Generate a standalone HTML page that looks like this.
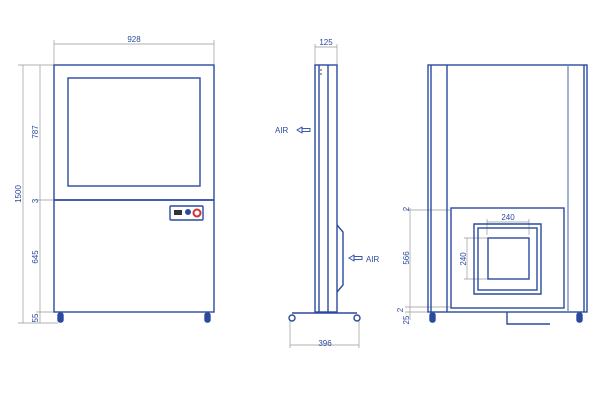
<!DOCTYPE html>
<html><head><style>body{margin:0;background:#fff}svg{display:block}</style></head><body>
<svg width="600" height="400" viewBox="0 0 600 400" font-family="Liberation Sans, sans-serif" font-size="8" fill="none">
<g stroke="#999" stroke-width="0.7">
<line x1="54" y1="44" x2="214" y2="44"/><line x1="54" y1="40" x2="54" y2="65"/><line x1="214" y1="40" x2="214" y2="65"/>
<line x1="23" y1="65" x2="23" y2="323"/><line x1="40" y1="65" x2="40" y2="323"/>
<line x1="18" y1="65" x2="54" y2="65"/><line x1="18" y1="323" x2="58" y2="323"/>
<line x1="36" y1="200" x2="54" y2="200"/><line x1="36" y1="312" x2="54" y2="312"/>
<line x1="315" y1="47" x2="337" y2="47"/><line x1="315" y1="44" x2="315" y2="65"/><line x1="337" y1="44" x2="337" y2="65"/>
<line x1="290" y1="345" x2="359" y2="345"/><line x1="290" y1="320" x2="290" y2="348"/><line x1="359" y1="320" x2="359" y2="348"/>
<line x1="410" y1="208" x2="410" y2="320"/><line x1="405" y1="210" x2="450" y2="210"/><line x1="405" y1="307" x2="450" y2="307"/><line x1="405" y1="312" x2="430" y2="312"/>
<line x1="487" y1="222" x2="529" y2="222"/><line x1="487" y1="219" x2="487" y2="235"/><line x1="529" y1="219" x2="529" y2="235"/>
<line x1="467" y1="238" x2="467" y2="279"/><line x1="464" y1="238" x2="488" y2="238"/><line x1="464" y1="279" x2="488" y2="279"/>
</g>
<g fill="#2a4aa0" font-size="8">
<text x="134" y="42" text-anchor="middle">928</text>
<text transform="translate(21,194) rotate(-90)" text-anchor="middle">1500</text>
<text transform="translate(38,132) rotate(-90)" text-anchor="middle">787</text>
<text transform="translate(38,201) rotate(-90)" text-anchor="middle">3</text>
<text transform="translate(38,257) rotate(-90)" text-anchor="middle">645</text>
<text transform="translate(38,318) rotate(-90)" text-anchor="middle">55</text>
<text x="326" y="45" text-anchor="middle">125</text>
<text x="325" y="346" text-anchor="middle">396</text>
<text x="275" y="133">AIR</text><text x="366" y="262">AIR</text>
<text transform="translate(409,209) rotate(-90)" text-anchor="middle">2</text>
<text transform="translate(409,258) rotate(-90)" text-anchor="middle">566</text>
<text transform="translate(403,310) rotate(-90)" text-anchor="middle">2</text>
<text transform="translate(409,320) rotate(-90)" text-anchor="middle">25</text>
<text x="508" y="220" text-anchor="middle">240</text>
<text transform="translate(466,259) rotate(-90)" text-anchor="middle">240</text>
</g>
<g stroke="#2a4aa0" stroke-width="1.4">
<rect x="54" y="65" width="160" height="247"/>
<rect x="68" y="78" width="132" height="108"/>
<line x1="54" y1="200" x2="214" y2="200" stroke-width="1.8"/>
<rect x="170" y="206" width="33" height="14" rx="1"/>
<rect x="58" y="313" width="5" height="9" rx="2" fill="#2a4aa0"/>
<rect x="205" y="313" width="5" height="9" rx="2" fill="#2a4aa0"/>
<rect x="315" y="65" width="22" height="247"/>
<line x1="319" y1="65" x2="319" y2="312"/><line x1="328" y1="65" x2="328" y2="312"/>
<polyline points="337,225 343,232 343,285 337,292"/>
<line x1="292" y1="313" x2="357" y2="313"/>
<circle cx="292" cy="318" r="3"/><circle cx="357" cy="318" r="3"/>
<polygon points="297,130 302,127 302,133" stroke-width="0.9"/>
<rect x="302" y="128.5" width="8" height="3" stroke-width="0.9"/>
<polygon points="349,258 354,255 354,261" stroke-width="0.9"/>
<rect x="354" y="256.5" width="8" height="3" stroke-width="0.9"/>
<rect x="428" y="65" width="159" height="247"/>
<line x1="431" y1="65" x2="431" y2="312"/><line x1="447" y1="65" x2="447" y2="312"/>
<line x1="568" y1="65" x2="568" y2="312" stroke="#7a90c0"/><line x1="584" y1="65" x2="584" y2="312"/>
<rect x="451" y="208" width="113" height="100"/>
<polygon points="474,224 541,224 541,294 474,294"/>
<rect x="478" y="228" width="59" height="62"/>
<rect x="488" y="238" width="41" height="41"/>
<rect x="430" y="313" width="5" height="9" rx="2" fill="#2a4aa0"/>
<rect x="577" y="313" width="5" height="9" rx="2" fill="#2a4aa0"/>
<polyline points="507,312 507,324 550,324"/>
</g>
<rect x="174" y="210" width="8" height="5" fill="#333"/><circle cx="188" cy="212" r="3" fill="#2a4aa0"/><circle cx="197" cy="213" r="3.5" stroke="#d03030" stroke-width="2" fill="none"/>
<circle cx="321" cy="70" r="0.8" fill="#333"/><circle cx="321" cy="74" r="0.8" fill="#333"/>
</svg>
</body></html>
